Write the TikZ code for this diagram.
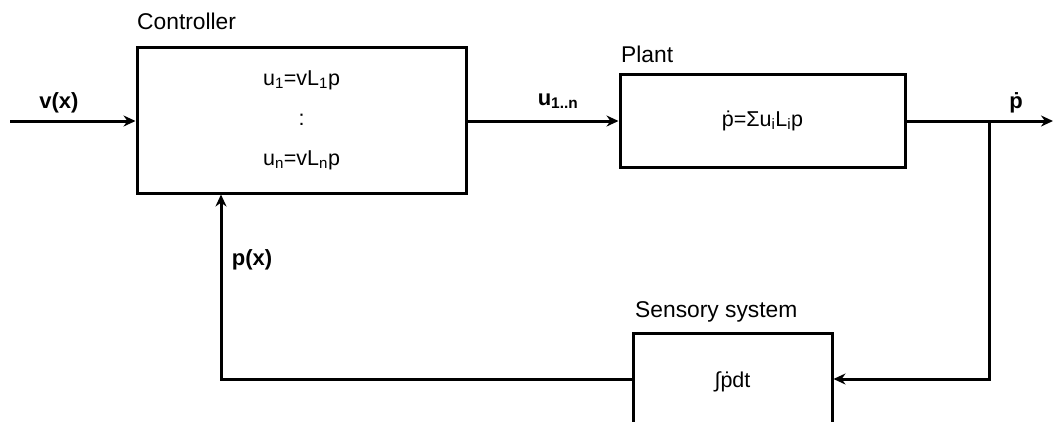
\documentclass[tikz,border=0pt]{standalone}
\usepackage{fontspec}
\setmainfont{Liberation Sans}
\usetikzlibrary{arrows.meta,positioning,calc}

\begin{document}
\begin{tikzpicture}[x=1pt,y=-1pt,
  block/.style={draw,line width=3pt,inner sep=0pt,align=center},
  lbl/.style={font=\fontsize{22.8}{27}\selectfont,inner sep=0pt,anchor=base west},
  sig/.style={font=\fontsize{22}{26}\selectfont\bfseries,inner sep=0pt,anchor=base},
  wire/.style={line width=3pt},
  flow/.style={wire,-{Stealth[length=12pt,width=11pt]}}]
  \clip (0,0) rectangle (1054,421);
  \fill[white] (0,0) rectangle (1054,421);
  % Blocks
  \node[block,minimum width=329pt,minimum height=146pt,font=\fontsize{21.5}{40}\selectfont] (ctrl) at (301.5,120)
    {u\textsubscript{1}=vL\textsubscript{1}p\\:\\u\textsubscript{n}=vL\textsubscript{n}p};
  \node[block,minimum width=285pt,minimum height=93pt,font=\fontsize{21.5}{25}\selectfont] (plant) at (762.5,120.5)
    {\.{p}=\symbol{"03A3}u\textsubscript{i}L\textsubscript{i}p};
  \node[block,minimum width=199pt,minimum height=98pt,font=\fontsize{21.5}{25}\selectfont] (sens) at (732.5,382)
    {\symbol{"222B}\.{p}dt};
  % Block titles
  \node[lbl] (tctrl) at (137,29.5) {Controller};
  \node[lbl] (tplant) at (621,62) {Plant};
  \node[lbl] (tsens) at (635,317) {Sensory system};
  % Forward path
  \coordinate (in) at (10,121);
  \coordinate (br) at (989,121);
  \coordinate (out) at (1053,121);
  \coordinate (fb) at (221,379);
  \draw[flow] (in) -- (in -| ctrl.west);
  \draw[flow] (ctrl.east |- in) -- (plant.west |- in);
  \draw[flow] (plant.east |- in) -- (out);
  % Feedback path
  \draw[flow] (br) |- (sens.east |- fb);
  \draw[flow] (sens.west |- fb) -- (fb) -- (fb |- ctrl.south);
  % Signal labels
  \node[sig] (lv) at (59,108) {v(x)};
  \node[sig] (lu) at (558,105) {u\textsubscript{1..n}};
  \node[sig] (lp) at (1016,108) {\.{p}};
  \node[sig] (lpx) at (252,265) {p(x)};
\end{tikzpicture}
\end{document}
